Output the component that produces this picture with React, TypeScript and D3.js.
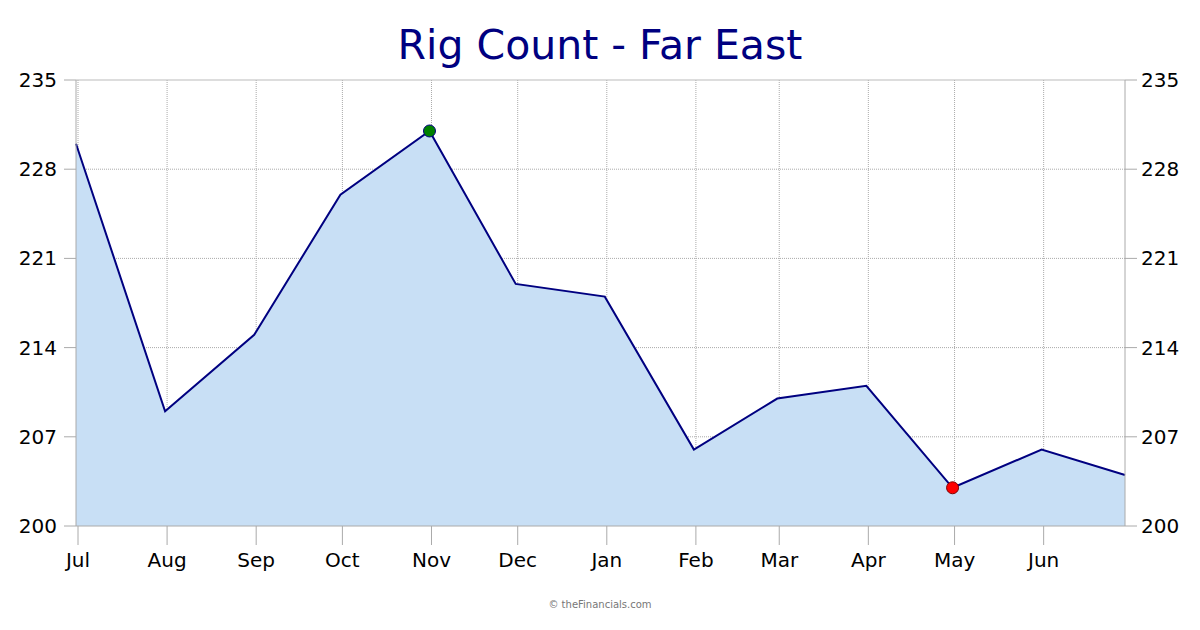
import * as React from "react";
import { scaleLinear, scaleTime, area, line, timeMonth, timeFormat, max, min } from "d3";

const dates = [
  "2023-07-01", "2023-08-01", "2023-09-01", "2023-10-01", "2023-11-01", "2023-12-01",
  "2024-01-01", "2024-02-01", "2024-03-01", "2024-04-01", "2024-05-01", "2024-06-01", "2024-06-30",
];
const rigs = [230, 209, 215, 226, 231, 219, 218, 206, 210, 211, 203, 206, 204];
const yTicks = [200, 207, 214, 221, 228, 235];

const W = 1200;
const H = 630;
const left = 76;
const right = 1125;
const top = 80;
const bottom = 526;
const font = "Verdana, 'DejaVu Sans', sans-serif";

export default function App() {
  const pts = dates.map((d, i) => ({ date: new Date(d + "T00:00:00"), v: rigs[i] }));

  const x = scaleTime()
    .domain([pts[0].date, pts[pts.length - 1].date])
    .range([left, right]);
  const y = scaleLinear().domain([200, 235]).range([bottom, top]);

  const monthTicks = timeMonth.range(pts[0].date, pts[pts.length - 1].date);
  const fmt = timeFormat("%b");

  const areaGen = area<{ date: Date; v: number }>()
    .x((d) => x(d.date))
    .y0(y(200))
    .y1((d) => y(d.v));
  const lineGen = line<{ date: Date; v: number }>()
    .x((d) => x(d.date))
    .y((d) => y(d.v));

  const hi = max(rigs);
  const lo = min(rigs);
  const hiPt = pts.find((p) => p.v === hi)!;
  const loPt = pts.find((p) => p.v === lo)!;

  return (
    <svg width={W} height={H} style={{ display: "block", margin: -8, fontFamily: font }}>
      <rect width={W} height={H} fill="#fff" />
      <text x={W / 2} y={59} textAnchor="middle" fontSize={41} fill="#000080">
        Rig Count - Far East
      </text>

      {/* grid */}
      {yTicks.slice(1, -1).map((t) => (
        <line key={"h" + t} x1={left} x2={right} y1={y(t)} y2={y(t)} stroke="#aaa" strokeDasharray="1,1" />
      ))}
      {monthTicks.map((d) => (
        <line key={"v" + d.getTime()} x1={x(d) + 2} x2={x(d) + 2} y1={top} y2={bottom} stroke="#aaa" strokeDasharray="1,1" />
      ))}

      <path d={areaGen(pts) ?? ""} fill="#c8dff5" />
      <path d={lineGen(pts) ?? ""} fill="none" stroke="#000080" strokeWidth={2} />

      {/* frame */}
      <line x1={left} x2={right} y1={top} y2={top} stroke="#bbb" />
      <line x1={left} x2={left} y1={top} y2={bottom} stroke="#aaa" />
      <line x1={right} x2={right} y1={top} y2={bottom} stroke="#aaa" />
      <line x1={left} x2={right} y1={bottom} y2={bottom} stroke="#aaa" />

      {/* y axes */}
      {yTicks.map((t) => (
        <g key={"y" + t}>
          <line x1={left - 12} x2={left} y1={y(t)} y2={y(t)} stroke="#aaa" />
          <line x1={right} x2={right + 12} y1={y(t)} y2={y(t)} stroke="#aaa" />
          <text x={57} y={y(t)} dy="0.35em" textAnchor="end" fontSize={20} fill="#000">{t}</text>
          <text x={1141} y={y(t)} dy="0.35em" textAnchor="start" fontSize={20} fill="#000">{t}</text>
        </g>
      ))}

      {/* x axis */}
      {monthTicks.map((d) => (
        <g key={"x" + d.getTime()}>
          <line x1={x(d) + 2} x2={x(d) + 2} y1={bottom} y2={bottom + 19} stroke="#aaa" />
          <text x={x(d) + 2} y={567} textAnchor="middle" fontSize={20} fill="#000">{fmt(d)}</text>
        </g>
      ))}

      <circle cx={x(hiPt.date)} cy={y(hiPt.v)} r={6} fill="#008000" stroke="#000080" strokeWidth={1} />
      <circle cx={x(loPt.date)} cy={y(loPt.v)} r={6} fill="#ff0000" stroke="#800000" strokeWidth={1} />

      <text x={W / 2} y={608} textAnchor="middle" fontSize={10} fill="#777">© theFinancials.com</text>
    </svg>
  );
}
